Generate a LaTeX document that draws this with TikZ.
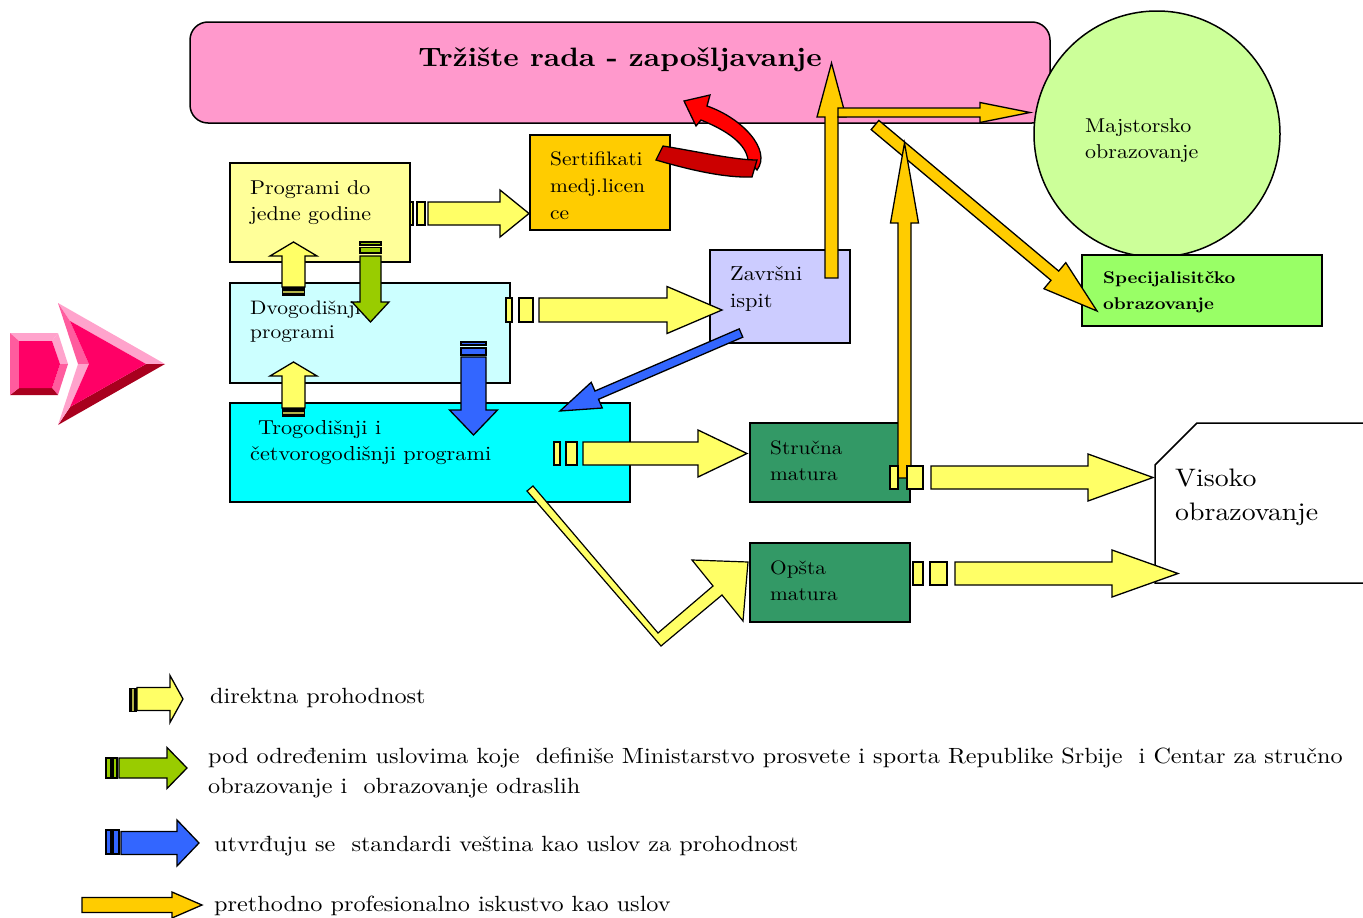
\documentclass[tikz,border=0pt]{standalone}
\usepackage{fontspec}
\setmainfont{lmroman10}[Extension=.otf, UprightFont=*-regular, BoldFont=*-bold, ItalicFont=*-italic, BoldItalicFont=*-bolditalic, FakeStretch=1.1]
\definecolor{titlepink}{HTML}{FF99CC}
\definecolor{majgreen}{HTML}{CCFF99}
\definecolor{specgreen}{HTML}{99FF66}
\definecolor{progyellow}{HTML}{FFFF99}
\definecolor{sertorange}{HTML}{FFCC00}
\definecolor{dvocyan}{HTML}{CCFFFF}
\definecolor{trocyan}{HTML}{00FFFF}
\definecolor{zavlilac}{HTML}{CCCCFF}
\definecolor{maturagreen}{HTML}{339966}
\definecolor{ayellow}{HTML}{FFFF66}
\definecolor{agreen}{HTML}{99CC00}
\definecolor{ablue}{HTML}{3366FF}
\definecolor{aorange}{HTML}{FFCC00}
\definecolor{pklight}{HTML}{FFA3CC}
\definecolor{pkmed}{HTML}{FF5C9E}
\definecolor{pkmain}{HTML}{FF0066}
\definecolor{pkdark}{HTML}{A8001E}
\definecolor{redlight}{HTML}{FF0000}
\definecolor{reddark}{HTML}{CC0000}
% block arrow: x1,y1,x2,y2, shaft half width, head half width, head length, style
\newcommand\barrow[8]{%
 \pgfmathsetmacro\BAang{atan2(#2-#4,#3-#1)}%
 \pgfmathsetmacro\BAlen{veclen(#3-#1,#4-#2)}%
 \pgfmathsetmacro\BAbase{\BAlen-#7}%
 \draw[#8,shift={(#1,#2)},rotate=\BAang] (0,#5) -- (\BAbase,#5) -- (\BAbase,#6) -- (\BAlen,0) -- (\BAbase,-#6) -- (\BAbase,-#5) -- (0,-#5) -- cycle;}
\tikzset{
 box/.style={draw=black, line width=1.5pt, anchor=north west, inner sep=0pt, outer sep=0pt},
 lbl/.style={anchor=north west, inner sep=0pt, align=left, font=\fontsize{20}{26}\selectfont},
 leg/.style={anchor=base west, inner sep=0pt, font=\fontsize{22}{30}\selectfont},
 yarr/.style={draw=black, line width=1.3pt, fill=ayellow, line join=miter},
 garr/.style={draw=black, line width=1.3pt, fill=agreen, line join=miter},
 barr/.style={draw=black, line width=1.3pt, fill=ablue, line join=miter},
 oarr/.style={draw=black, line width=1.3pt, fill=aorange, line join=miter},
}
\begin{document}
\begin{tikzpicture}[x=1pt,y=-1pt]
\useasboundingbox (0,0) rectangle (1363,918);

% ---------- left pink decorative arrow ----------
\fill[pklight] (58,303) -- (165,364) -- (146,364) -- (70,321) -- cycle;
\fill[pkdark] (165,364) -- (58,425) -- (70,407) -- (146,364) -- cycle;
\fill[pkmed] (58,303) -- (70,321) -- (89,364) -- (78,364) -- cycle;
\fill[pklight] (78,364) -- (89,364) -- (70,407) -- (58,425) -- cycle;
\fill[pkmain] (70,321) -- (146,364) -- (70,407) -- (89,364) -- cycle;
\fill[pklight] (10,333) -- (58,333) -- (52,341) -- (19,341) -- cycle;
\fill[pklight] (58,333) -- (68,364) -- (60,364) -- (52,341) -- cycle;
\fill[pkmed] (68,364) -- (58,395) -- (52,388) -- (60,364) -- cycle;
\fill[pkdark] (58,395) -- (10,395) -- (19,388) -- (52,388) -- cycle;
\fill[pkmed] (10,395) -- (10,333) -- (19,341) -- (19,388) -- cycle;
\fill[pkmain] (19,341) -- (52,341) -- (60,364) -- (52,388) -- (19,388) -- cycle;

% ---------- boxes ----------
\node[box, fill=titlepink, rounded corners=18pt, minimum width=860, minimum height=101] (trz) at (190,22) {};
\node[anchor=base, inner sep=0pt, font=\fontsize{26.6}{30}\selectfont\bfseries] (trzt) at (620,66) {Tržište rada - zapošljavanje};
\node[circle, draw=black, line width=1.5pt, fill=majgreen, minimum size=246, inner sep=0pt] (maj) at (1157,134) {};
\node[lbl] (majt) at (1085,118.1) {Majstorsko\\obrazovanje};
\node[box, fill=specgreen, minimum width=240, minimum height=71] (spec) at (1082,255) {};
\node[lbl, font=\fontsize{17}{26}\selectfont\bfseries] (spect) at (1103,271) {Specijalisitčko\\obrazovanje};

\node[box, fill=progyellow, minimum width=180, minimum height=99] (prog) at (230,163) {};
\node[lbl] (progt) at (250,180.1) {Programi do\\jedne godine};
\node[box, fill=sertorange, minimum width=140, minimum height=95] (sert) at (530,135) {};
\node[lbl, font=\fontsize{19.5}{27}\selectfont] (sertt) at (550,151.3) {Sertifikati\\medj.licen\\ce};
\node[box, fill=dvocyan, minimum width=280, minimum height=100] (dvo) at (230,283) {};
\node[lbl, font=\fontsize{19.5}{24}\selectfont] (dvot) at (250,300.3) {Dvogodišnji\\programi};
\node[box, fill=trocyan, minimum width=400, minimum height=99] (tro) at (230,403) {};
\node[lbl, font=\fontsize{20.2}{26}\selectfont] (trot) at (250,420) {\hspace*{8pt}Trogodišnji i\\četvorogodišnji programi};
\node[box, fill=zavlilac, minimum width=140, minimum height=93] (zav) at (710,250) {};
\node[lbl, font=\fontsize{20.3}{27}\selectfont] (zavt) at (730,266) {Završni\\ispit};
\node[box, fill=maturagreen, minimum width=160, minimum height=79] (str) at (750,423) {};
\node[lbl, font=\fontsize{19.4}{26}\selectfont] (strt) at (770,440.3) {Stručna\\matura};
\node[box, fill=maturagreen, minimum width=160, minimum height=79] (ops) at (750,543) {};
\node[lbl, font=\fontsize{19.4}{26}\selectfont] (opst) at (770,560.3) {Opšta\\matura};
\filldraw[fill=white, draw=black, line width=1.5pt] (1370,423) -- (1197,423) -- (1155,465) -- (1155,583) -- (1370,583);
\node[lbl, font=\fontsize{25.3}{34}\selectfont] (vist) at (1175,468.4) {Visoko\\obrazovanje};

% ---------- red curved arrow ----------
\draw[fill=redlight, line width=1.3pt, line join=miter] (701,120) -- (696,126) -- (684,101) -- (710,95) -- (707,106) .. controls (742,118) and (772,150) .. (757,170) -- (748,160) .. controls (746,144) and (728,131) .. (701,120) -- cycle;
\draw[fill=reddark, line width=1.3pt, line join=miter] (663,146) .. controls (700,152) and (735,160) .. (757,160) -- (752,177) .. controls (725,178) and (690,170) .. (656,160) -- cycle;

% ---------- yellow arrows ----------
\draw[yarr] (410,202) rectangle (413,225);
\draw[yarr] (417,202) rectangle (425,225);
\barrow{428}{213.5}{529}{213.5}{11.5}{23.5}{29}{yarr}
\draw[yarr] (506,298) rectangle (512,322);
\draw[yarr] (519,298) rectangle (533,322);
\barrow{539}{310}{722}{310}{12}{23.5}{55}{yarr}
\draw[yarr] (554,442) rectangle (560,465);
\draw[yarr] (566,442) rectangle (577,465);
\barrow{583}{453.5}{747}{453.5}{11.5}{23.5}{49}{yarr}
\draw[yarr] (913,562) rectangle (923,585);
\draw[yarr] (930,562) rectangle (947,585);
\barrow{955}{573.5}{1178}{573.5}{11.5}{23.5}{66}{yarr}
% up arrows
\barrow{293.5}{287}{293.5}{242}{11.5}{23.5}{14}{yarr}
\fill[black] (282,287) rectangle (305,296);
\fill[ayellow!70!black] (283,291) rectangle (304,292.5);
\barrow{293.5}{408}{293.5}{362}{11.5}{23.5}{14}{yarr}
\fill[black] (282,408) rectangle (305,417);
\fill[ayellow!70!black] (283,412) rectangle (304,413.5);
% zigzag
\draw[yarr, line width=1.2pt] (527,491) -- (533,486) -- (658,633) -- (713,586) -- (692,560) -- (748,562) -- (743,621) -- (722,595) -- (661,646) -- cycle;

% ---------- green and blue arrows ----------
\draw[garr] (360,242) rectangle (381,245);
\draw[garr] (360,247.5) rectangle (381,253);
\barrow{370.5}{256}{370.5}{322}{10.5}{18.5}{20}{garr}
\draw[barr] (461,342) rectangle (486,345);
\draw[barr] (461,348) rectangle (486,355);
\barrow{473.5}{357}{473.5}{435}{12.5}{24}{25}{barr}
\barrow{741}{333}{560}{411}{4.5}{14}{40}{barr}

% ---------- orange arrows ----------
\barrow{831.5}{278}{831.5}{63}{6.5}{14.5}{54}{oarr}
\barrow{838}{112.5}{1030}{112.5}{4.5}{10}{50}{oarr}
\barrow{875}{125}{1097}{311}{6}{17}{55}{oarr}
\barrow{904.5}{478}{904.5}{143}{6.5}{14}{80}{oarr}
% stručna -> visoko (over orange)
\draw[yarr] (890,466) rectangle (898,489);
\draw[yarr] (907,466) rectangle (923,489);
\barrow{931}{477.5}{1153}{477.5}{11.5}{23.5}{65}{yarr}

% ---------- legend ----------
\fill[black] (129,688) rectangle (137,712);
\fill[ayellow!70!black] (132,689) rectangle (133.5,711);
\barrow{137}{699}{183}{699}{11.5}{23.5}{13}{yarr}
\node[leg] (l1) at (210,703.4) {direktna prohodnost};

\draw[garr] (106,758) rectangle (111,778);
\draw[garr] (113,758) rectangle (117,778);
\barrow{119}{768}{187}{768}{10}{20.5}{20}{garr}
\node[leg, anchor=north west, align=left] (l2) at (208,748.2) {pod određenim uslovima koje\ \ definiše Ministarstvo prosvete i sporta Republike Srbije\ \ i Centar za stručno\\obrazovanje i\ \ obrazovanje odraslih};

\draw[barr] (106,830) rectangle (111,854);
\draw[barr] (113,830) rectangle (119,854);
\barrow{121}{843}{199}{843}{11.5}{23}{22}{barr}
\node[leg] (l3) at (214,851.4) {utvrđuju se\ \ standardi veština kao uslov za prohodnost};

\barrow{82}{905}{202}{905}{7.5}{13}{30}{oarr}
\node[leg] (l4) at (214,911.4) {prethodno profesionalno iskustvo kao uslov};
\end{tikzpicture}
\end{document}
